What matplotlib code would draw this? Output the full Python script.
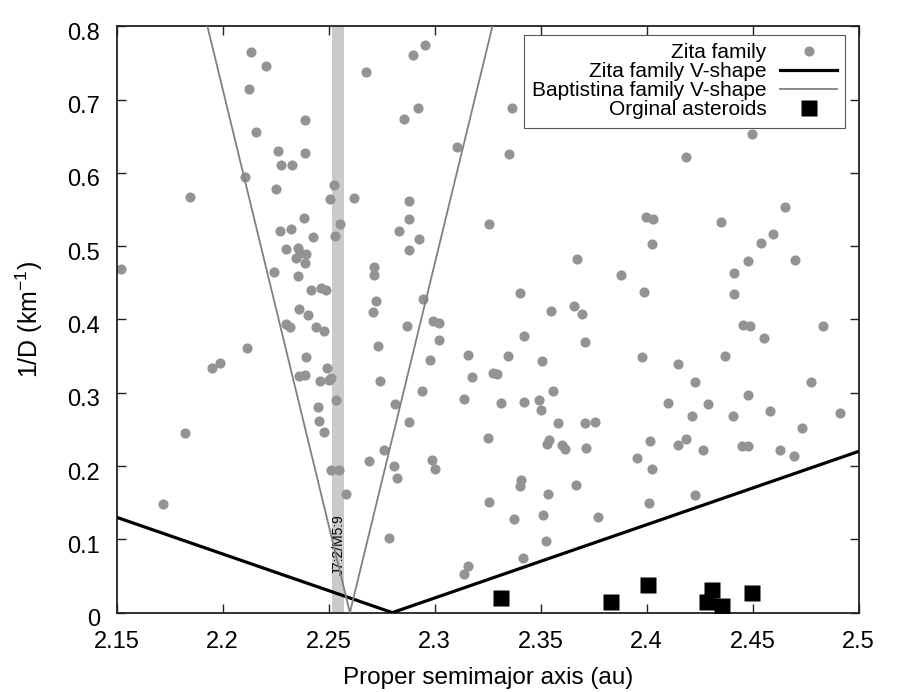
import numpy as np
import matplotlib
matplotlib.use("Agg")
import matplotlib.pyplot as plt
from matplotlib.transforms import ScaledTranslation

plt.rcParams["font.family"] = ["Liberation Sans", "DejaVu Sans"]

# Zita family members (proper a, 1/D)
zita_a = [
    2.2132, 2.2206, 2.2125, 2.2387, 2.2156, 2.2262, 2.2388, 2.2275, 2.2325, 2.2105,
    2.2250, 2.2526, 2.1847, 2.2508, 2.2621, 2.2385, 2.2555, 2.2270, 2.2322, 2.2426,
    2.2530, 2.2300, 2.2357, 2.2391, 2.2346, 2.2390, 2.2365, 2.1522, 2.2240, 2.2357,
    2.2417, 2.2462, 2.2486, 2.2360, 2.2404, 2.2300, 2.2316, 2.2441, 2.2478, 2.2115,
    2.1950, 2.1987, 2.2391, 2.2493, 2.2358, 2.2390, 2.2459, 2.2500, 2.2512, 2.2532,
    2.2448, 2.2454, 2.2476, 2.1824, 2.2509, 2.2547, 2.2583, 2.1720,
    2.2956, 2.2898, 2.2675, 2.2921, 2.2854, 2.3365, 2.3107, 2.3352, 2.2880, 2.2880,
    2.2833, 2.2927, 2.2880, 2.2715, 2.2712, 2.2722, 2.2710, 2.2945, 2.3256, 2.3671,
    2.3404, 2.3549, 2.3659, 2.3696, 2.3707, 2.3421, 2.2871, 2.2992, 2.3019, 2.3019,
    2.2734, 2.2979, 2.3157, 2.3347, 2.3505, 2.3177, 2.3276, 2.3294, 2.2741, 2.2939,
    2.3557, 2.2813, 2.3140, 2.3313, 2.3421, 2.3492, 2.3501, 2.2877, 2.3583, 2.3710,
    2.3756, 2.3251, 2.3538, 2.3528, 2.3602, 2.3616, 2.3714, 2.2759, 2.2690, 2.2808,
    2.2822, 2.2989, 2.3000, 2.3406, 2.3403, 2.3665, 2.3536, 2.3258, 2.3374, 2.3511,
    2.3772, 2.3527, 2.2783, 2.3417, 2.3157, 2.3140,
    2.4498, 2.4184, 2.4654, 2.3997, 2.4028, 2.4350, 2.4026, 2.4597, 2.4539, 2.4478,
    2.4700, 2.3880, 2.4410, 2.4413, 2.3989, 2.4456, 2.4487, 2.4830, 2.4552, 2.3978,
    2.4371, 2.4149, 2.4226, 2.4775, 2.4478, 2.4100, 2.4289, 2.4216, 2.4409, 2.4582,
    2.4912, 2.4731, 2.4017, 2.3954, 2.4025, 2.4148, 2.4184, 2.4266, 2.4448, 2.4476,
    2.4630, 2.4693, 2.4010, 2.4229,
]
zita_invd = [
    0.7644, 0.7457, 0.7148, 0.6720, 0.6557, 0.6293, 0.6274, 0.6102, 0.6102, 0.5947,
    0.5783, 0.5838, 0.5670, 0.5647, 0.5660, 0.5380, 0.5297, 0.5206, 0.5233, 0.5124,
    0.5142, 0.4960, 0.4970, 0.4888, 0.4833, 0.4765, 0.4900, 0.4683, 0.4642, 0.4592,
    0.4401, 0.4428, 0.4401, 0.4138, 0.4056, 0.3937, 0.3900, 0.3892, 0.3838, 0.3614,
    0.3333, 0.3400, 0.3491, 0.3337, 0.3228, 0.3237, 0.3164, 0.3173, 0.3200, 0.2900,
    0.2801, 0.2618, 0.2464, 0.2446, 0.1941, 0.1941, 0.1618, 0.1486,
    0.7744, 0.7603, 0.7371, 0.6884, 0.6730, 0.6884, 0.6348, 0.6253, 0.5619, 0.5366,
    0.5210, 0.5093, 0.4947, 0.4715, 0.4610, 0.4255, 0.4101, 0.4283, 0.5301, 0.4824,
    0.4356, 0.4110, 0.4183, 0.4074, 0.3688, 0.3778, 0.3910, 0.3974, 0.3955, 0.3723,
    0.3641, 0.3450, 0.3514, 0.3497, 0.3437, 0.3218, 0.3273, 0.3251, 0.3156, 0.3027,
    0.3019, 0.2846, 0.2910, 0.2860, 0.2873, 0.2900, 0.2764, 0.2596, 0.2587, 0.2591,
    0.2596, 0.2382, 0.2350, 0.2300, 0.2286, 0.2236, 0.2241, 0.2218, 0.2068, 0.2000,
    0.1836, 0.2082, 0.1959, 0.1805, 0.1727, 0.1737, 0.1614, 0.1513, 0.1281, 0.1332,
    0.1309, 0.0977, 0.1018, 0.0749, 0.0640, 0.0531,
    0.6530, 0.6216, 0.5533, 0.5401, 0.5366, 0.5325, 0.5033, 0.5161, 0.5047, 0.4797,
    0.4806, 0.4601, 0.4629, 0.4342, 0.4374, 0.3919, 0.3906, 0.3914, 0.3750, 0.3487,
    0.3505, 0.3396, 0.3150, 0.3142, 0.2969, 0.2860, 0.2846, 0.2678, 0.2686, 0.2746,
    0.2723, 0.2518, 0.2337, 0.2113, 0.1955, 0.2282, 0.2368, 0.2214, 0.2277, 0.2269,
    0.2218, 0.2132, 0.1491, 0.1604,
]

# original asteroids
orig_a = [2.3314, 2.3832, 2.4006, 2.4308, 2.4286, 2.4354, 2.4497]
orig_invd = [0.0199, 0.0145, 0.0380, 0.0312, 0.0145, 0.0090, 0.0267]

# V-shape parameters
zita_ac, zita_slope = 2.28, 1.0
bapt_ac, bapt_slope = 2.26, 11.9

# resonance band
res_lo, res_hi = 2.2517, 2.2572

fig = plt.figure(figsize=(9, 6.92), dpi=100)
ax = fig.add_axes([0.1297, 0.1147, 0.8244, 0.8474])

ax.axvspan(res_lo, res_hi, color="#cacaca", lw=0, zorder=0)
ax.text((res_lo + res_hi) / 2 + 0.0005, 0.051, "J7:2/M5:9", rotation=90, ha="center",
        va="bottom", fontsize=10, zorder=1)

ax.plot(zita_a, zita_invd, "o", color="#939393", ms=7.3, mec="none",
        label="Zita family", zorder=2)

a = np.linspace(2.15, 2.5, 701)
ax.plot(a, zita_slope * np.abs(a - zita_ac), color="black", lw=2.3,
        label="Zita family V-shape", zorder=3)
ax.plot(a, bapt_slope * np.abs(a - bapt_ac), color="#808080", lw=1.3,
        label="Baptistina family V-shape", zorder=3)

ax.plot(orig_a, orig_invd, "s", color="black", ms=11.5, mec="none",
        label="Orginal asteroids", zorder=4)

ax.set_xlim(2.15, 2.5)
ax.set_ylim(0, 0.8)
ax.set_xticks([2.15, 2.2, 2.25, 2.3, 2.35, 2.4, 2.45, 2.5])
ax.set_xticklabels(["2.15", "2.2", "2.25", "2.3", "2.35", "2.4", "2.45", "2.5"])
ax.set_yticks(np.arange(0, 0.81, 0.1))
ax.set_yticklabels(["0", "0.1", "0.2", "0.3", "0.4", "0.5", "0.6", "0.7", "0.8"])
ax.tick_params(direction="in", length=6.5, width=1, labelsize=17,
               top=True, right=True, colors="#222222", labelcolor="black")
ax.tick_params(axis="x", pad=13)
ax.tick_params(axis="y", pad=12)
shift = ScaledTranslation(0, -5 / 100, fig.dpi_scale_trans)
for lab in ax.get_yticklabels():
    lab.set_transform(lab.get_transform() + shift)
for s in ax.spines.values():
    s.set_linewidth(1.3)
    s.set_color("#222222")

ax.set_xlabel("Proper semimajor axis (au)", fontsize=17.5, labelpad=10)
ax.set_ylabel("1/D (km$^{\\mathregular{-1}}$)", fontsize=18, labelpad=16)

leg = ax.legend(loc="upper right", bbox_to_anchor=(0.9815, 0.985),
                borderaxespad=0, markerfirst=False, numpoints=1,
                fontsize=15, handlelength=2.7, fancybox=False,
                edgecolor="#555555", framealpha=1, labelspacing=0.0,
                handletextpad=0.67, borderpad=0.4)
leg.get_frame().set_linewidth(0.8)

fig.savefig("out.png", dpi=100)
